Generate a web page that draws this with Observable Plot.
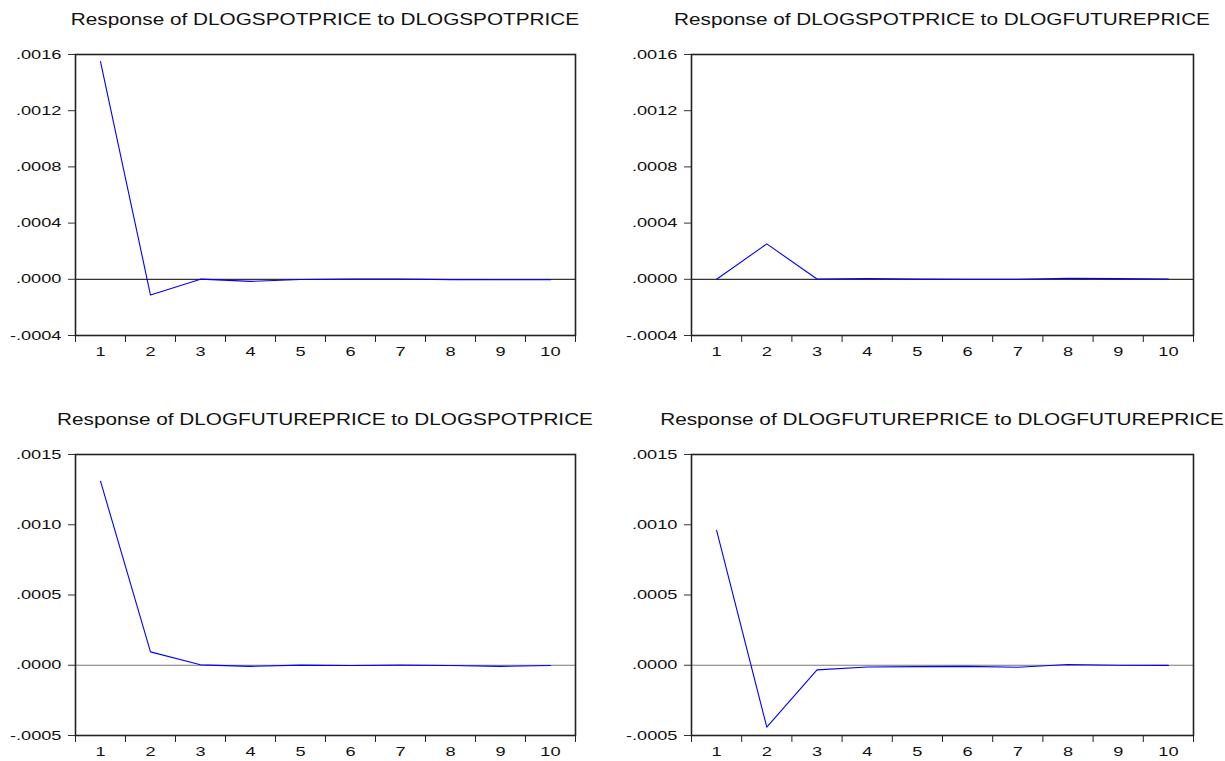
<!DOCTYPE html>
<html>
<head>
<meta charset="utf-8">
<script src="https://cdn.jsdelivr.net/npm/d3@7"></script>
<script src="https://cdn.jsdelivr.net/npm/@observablehq/plot@0.6"></script>
<style>
  html, body { margin: 0; padding: 0; background: #fff; overflow: hidden; }
  #wrap { position: relative; width: 1225px; height: 761px; font-family: "Liberation Sans", Arial, sans-serif; }
  .panel { position: absolute; }
  .title { position: absolute; text-align: center; font-size: 17px; color: #111; white-space: nowrap; transform: scaleX(1.22); transform-origin: 50% 50%; }
  svg text { font-family: "Liberation Sans", Arial, sans-serif; font-size: 13px !important; fill: #111; }
</style>
</head>
<body>
<div id="wrap"></div>
<script>
// ---- data ----
const periods = [1, 2, 3, 4, 5, 6, 7, 8, 9, 10];

const spotToSpot     = [0.00155, -0.000112, 0.000001, -0.000015, -0.000001, 0.000002, 0.000002, -0.000002, -0.000003, -0.000003];
const spotToFuture   = [0.0, 0.000252, 0.000002, 0.000006, 0.000001, 0.0, 0.0, 0.000008, 0.000005, 0.000002];
const futureToSpot   = [0.00131, 0.000095, 0.000003, -0.000008, 0.000001, -0.000002, 0.000001, -0.000002, -0.000008, -0.000002];
const futureToFuture = [0.00096, -0.000441, -0.000033, -0.000012, -0.00001, -0.000008, -0.000014, 0.000005, 0.0, -0.000001];

const titles = [
  "Response of DLOGSPOTPRICE to DLOGSPOTPRICE",
  "Response of DLOGSPOTPRICE to DLOGFUTUREPRICE",
  "Response of DLOGFUTUREPRICE to DLOGSPOTPRICE",
  "Response of DLOGFUTUREPRICE to DLOGFUTUREPRICE"
];

const topTicks = [-0.0004, 0, 0.0004, 0.0008, 0.0012, 0.0016];
const bottomTicks = [-0.0005, 0, 0.0005, 0.0010, 0.0015];

// ---- layout ----
const panels = [
  {values: spotToSpot,     title: titles[0], ticks: topTicks,    left: 0,   top: 0,   width: 612, height: 380, ml: 75, mr: 37, mt: 54, mb: 45, zero: "#333"},
  {values: spotToFuture,   title: titles[1], ticks: topTicks,    left: 612, top: 0,   width: 613, height: 380, ml: 79, mr: 32, mt: 54, mb: 45, zero: "#333"},
  {values: futureToSpot,   title: titles[2], ticks: bottomTicks, left: 0,   top: 400, width: 612, height: 361, ml: 75, mr: 37, mt: 54, mb: 26, zero: "#777"},
  {values: futureToFuture, title: titles[3], ticks: bottomTicks, left: 612, top: 400, width: 613, height: 361, ml: 79, mr: 32, mt: 54, mb: 26, zero: "#777"}
];

const fmt = d => {
  const s = d3.format(".4f")(d).replace("\u2212", "-");
  return s.replace(/^(-?)0\./, "$1.");
};

const boundaries = [...periods.map(p => p - 0.5), periods[periods.length - 1] + 0.5];

const wrap = document.getElementById("wrap");
const STRETCH = 1.4;

for (const p of panels) {
  const data = periods.map((t, i) => ({t, v: p.values[i]}));
  const chart = Plot.plot({
    width: p.width,
    height: p.height,
    marginLeft: p.ml,
    marginRight: p.mr,
    marginTop: p.mt,
    marginBottom: p.mb,
    style: {fontSize: "13px", color: "#111", background: "transparent", overflow: "visible"},
    x: {type: "linear", domain: [boundaries[0], boundaries[boundaries.length - 1]]},
    y: {domain: [p.ticks[0], p.ticks[p.ticks.length - 1]]},
    marks: [
      Plot.ruleY([0], {stroke: p.zero, strokeWidth: 1.2}),
      Plot.lineY(data, {x: "t", y: "v", stroke: "#0000ff", strokeWidth: 1.1}),
      Plot.axisY({ticks: p.ticks, tickFormat: fmt, tickSize: 7, tickPadding: 7, stroke: "#333", label: null}),
      Plot.axisX({ticks: boundaries, tickFormat: () => "", tickSize: 7, stroke: "#222", label: null}),
      Plot.axisX({ticks: periods, tickFormat: d => String(d), tickSize: 0, tickPadding: 11, label: null}),
      Plot.frame({stroke: "#222", strokeWidth: 1.6})
    ]
  });
  const div = document.createElement("div");
  div.className = "panel";
  div.style.left = p.left + "px";
  div.style.top = p.top + "px";
  div.appendChild(chart);
  wrap.appendChild(div);

  // widen tick labels to match the reference's horizontally stretched lettering
  chart.querySelectorAll('g[aria-label$="tick label"] text').forEach(t => {
    const L = t.getComputedTextLength();
    if (L > 0) {
      t.setAttribute("textLength", (L * STRETCH).toFixed(1));
      t.setAttribute("lengthAdjust", "spacingAndGlyphs");
    }
  });

  const t = document.createElement("div");
  t.className = "title";
  t.textContent = p.title;
  const cx = p.left + p.ml + (p.width - p.ml - p.mr) / 2;
  t.style.left = (cx - 300) + "px";
  t.style.width = "600px";
  t.style.top = (p.top + 10) + "px";
  wrap.appendChild(t);
}
</script>
</body>
</html>
